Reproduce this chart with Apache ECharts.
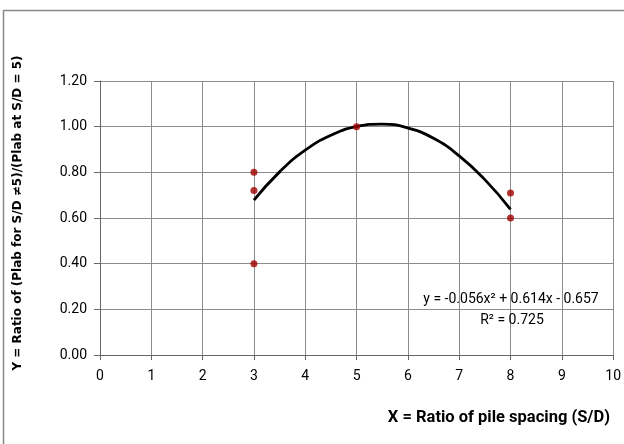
<!DOCTYPE html>
<html>
<head>
<meta charset="utf-8">
<script src="https://cdn.jsdelivr.net/npm/echarts@6/dist/echarts.min.js"></script>
<style>html,body{margin:0;padding:0;background:#fff}#c{width:624px;height:444px}</style>
</head>
<body>
<div id="c"></div>
<script>
// Observed data points
const obsX = [3, 3, 3, 5, 8, 8];
const obsY = [0.80, 0.72, 0.40, 1.00, 0.71, 0.60];
// Trendline
const trendX = [3, 3.5, 4, 4.5, 5, 5.5, 6, 6.5, 7, 7.5, 8];
const trendY = [0.678, 0.802, 0.897, 0.962, 1.000, 1.011, 0.994, 0.949, 0.872, 0.768, 0.638];
const equationText = 'y = -0.056x² + 0.614x - 0.657';
const r2Text = 'R² = 0.725';
const xTitle = 'X = Ratio of pile spacing (S/D)';
const yTitle = 'Y = Ratio of (Plab for S/D \u22605)/(Plab at S/D = 5)';

const NARROW = 'Roboto, "Open Sans", sans-serif';
const chart = echarts.init(document.getElementById('c'), null, {renderer: 'canvas'});
chart.setOption({
  animation: false,
  backgroundColor: '#fff',
  grid: {left: 100, right: 10, top: 81, bottom: 89, show: false},
  xAxis: {
    type: 'value', min: 0, max: 10, interval: 1,
    axisLine: {show: true, onZero: false, lineStyle: {color: '#666', width: 1}},
    axisTick: {show: true, inside: false, length: 5, lineStyle: {color: '#666'}},
    axisLabel: {color: '#000', fontFamily: NARROW, fontSize: 14, margin: 14},
    splitLine: {show: true, lineStyle: {color: '#8c8c8c', width: 1}}
  },
  yAxis: {
    type: 'value', min: 0, max: 1.2, interval: 0.2,
    axisLine: {show: true, lineStyle: {color: '#666', width: 1}},
    axisTick: {show: true, inside: false, length: 6, lineStyle: {color: '#666'}},
    axisLabel: {color: '#000', fontFamily: NARROW, fontSize: 14, margin: 13,
      formatter: v => v.toFixed(2)},
    splitLine: {show: true, lineStyle: {color: '#8c8c8c', width: 1}}
  },
  graphic: [
    {type: 'rect', shape: {x: 3.5, y: 10.5, width: 800, height: 600},
     style: {fill: 'none', stroke: '#888', lineWidth: 1.5}, silent: true, z: -1},
    {type: 'text', x: 18, y: 213, rotation: Math.PI / 2,
     style: {text: yTitle, font: 'bold 12px "DejaVu Sans", Verdana, sans-serif', fill: '#000',
       textAlign: 'center', textVerticalAlign: 'middle'}},
    {type: 'text', x: 610, y: 418,
     style: {text: xTitle, font: 'bold 16.5px ' + NARROW, fill: '#000',
       textAlign: 'right', textVerticalAlign: 'middle'}},
    {type: 'text', x: 511, y: 299, z: 10,
     style: {text: equationText, font: '14px ' + NARROW, fill: '#000',
       textAlign: 'center', textVerticalAlign: 'middle'}},
    {type: 'text', x: 512, y: 320, z: 10,
     style: {text: r2Text, font: '14px ' + NARROW, fill: '#000',
       textAlign: 'center', textVerticalAlign: 'middle'}}
  ],
  series: [
    {
      type: 'line', smooth: 0.5, showSymbol: false, symbol: 'none',
      data: trendX.map((x, i) => [x, trendY[i]]),
      lineStyle: {color: '#000', width: 2.8}, z: 3
    },
    {
      type: 'scatter', symbol: 'circle', symbolSize: 7,
      data: obsX.map((x, i) => [x, obsY[i]]),
      itemStyle: {color: '#a00000'}, z: 4
    }
  ]
});
</script>
</body>
</html>
